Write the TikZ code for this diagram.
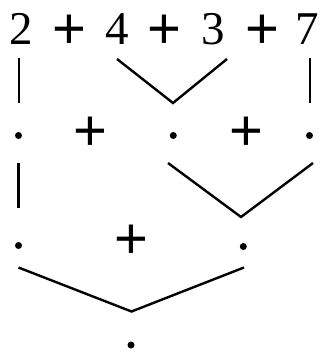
\documentclass[tikz,border=0pt]{standalone}
\usepackage{fontspec}
\setmainfont{Liberation Serif}
\newfontfamily\plusfont{Liberation Sans}
\begin{document}
\begin{tikzpicture}[x=1pt,y=-1pt,
  num/.style={inner sep=0pt,anchor=base,font=\fontsize{47}{47}\selectfont},
  op/.style={inner sep=0pt,anchor=center,font=\plusfont\fontsize{58}{58}\selectfont},
  pt/.style={circle,fill=black,inner sep=0pt,minimum size=7pt},
  conn/.style={line width=2.4pt}]
\useasboundingbox (0,0) rectangle (321,350);
% row 1
\node[num] (n2) at (21.5,45) {2};
\node[op]  (o1) at (69.5,31.5) {+};
\node[num] (n4) at (117.5,45) {4};
\node[op]  (o2) at (164.5,31.5) {+};
\node[num] (n3) at (213,45) {3};
\node[op]  (o3) at (262,31.5) {+};
\node[num] (n7) at (307.5,45) {7};
% row 2
\node[pt] (a1) at (18.5,135.5) {};
\node[op] (o4) at (90,133.5) {+};
\node[pt] (a2) at (173.3,135.5) {};
\node[op] (o5) at (246.5,133.5) {+};
\node[pt] (a3) at (309.5,135.5) {};
% row 3
\node[pt] (b1) at (18.5,245.5) {};
\node[op] (o6) at (131.5,241.5) {+};
\node[pt] (b2) at (243.3,246.5) {};
% row 4
\node[pt] (c1) at (131,345) {};
% connector ends
\coordinate (l1s) at (19,58);   \coordinate (l1e) at (19,103);
\coordinate (v1a) at (117,59);  \coordinate (v1m) at (173,103); \coordinate (v1b) at (227,59);
\coordinate (r1s) at (310,58);  \coordinate (r1e) at (310,103);
\coordinate (l2s) at (18.5,163); \coordinate (l2e) at (18.5,208);
\coordinate (v2a) at (168,163); \coordinate (v2m) at (241,217); \coordinate (v2b) at (313,163);
\coordinate (v3a) at (18.5,267.5); \coordinate (v3m) at (131.5,311.5); \coordinate (v3b) at (244,267.5);
\draw[conn] (l1s) -- (l1e);
\draw[conn] (v1a) -- (v1m) -- (v1b);
\draw[conn] (r1s) -- (r1e);
\draw[conn] (l2s) -- (l2e);
\draw[conn] (v2a) -- (v2m) -- (v2b);
\draw[conn] (v3a) -- (v3m) -- (v3b);
\end{tikzpicture}
\end{document}
